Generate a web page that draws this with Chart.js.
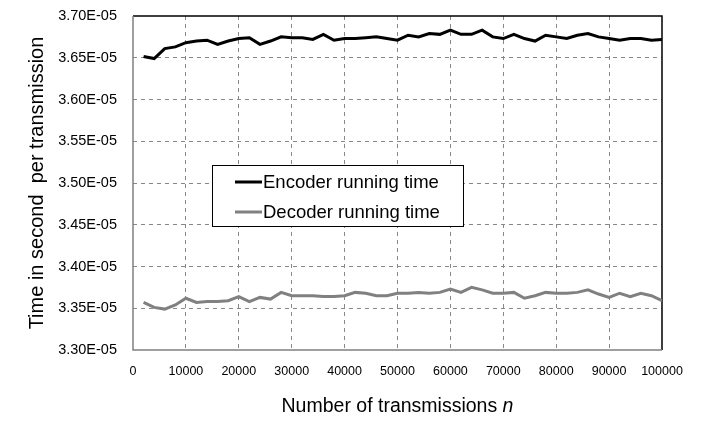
<!DOCTYPE html>
<html><head><meta charset="utf-8">
<script src="https://cdn.jsdelivr.net/npm/chart.js@4.4.1/dist/chart.umd.min.js"></script>
<style>html,body{margin:0;padding:0;background:#fff}#wrap{width:701px;height:439px}</style>
</head><body><div id="wrap"><canvas id="c" width="701" height="439"></canvas></div>
<script>
const transmissions = [2000,4000,6000,8000,10000,12000,14000,16000,18000,20000,22000,24000,26000,28000,30000,32000,34000,36000,38000,40000,42000,44000,46000,48000,50000,52000,54000,56000,58000,60000,62000,64000,66000,68000,70000,72000,74000,76000,78000,80000,82000,84000,86000,88000,90000,92000,94000,96000,98000,100000];
const encoderE5 = [3.6516,3.649,3.661,3.663,3.668,3.670,3.671,3.666,3.670,3.673,3.674,3.666,3.670,3.675,3.674,3.674,3.672,3.678,3.671,3.673,3.673,3.674,3.675,3.673,3.671,3.677,3.675,3.679,3.678,3.683,3.678,3.678,3.683,3.675,3.673,3.678,3.673,3.670,3.677,3.675,3.673,3.677,3.679,3.675,3.673,3.671,3.673,3.673,3.671,3.672];
const decoderE5 = [3.357,3.351,3.349,3.354,3.362,3.357,3.358,3.358,3.359,3.364,3.358,3.363,3.361,3.369,3.365,3.365,3.365,3.364,3.364,3.365,3.369,3.368,3.365,3.365,3.368,3.368,3.369,3.368,3.369,3.373,3.369,3.375,3.372,3.368,3.368,3.369,3.362,3.365,3.369,3.368,3.368,3.369,3.372,3.367,3.363,3.368,3.364,3.368,3.365,3.359];
const seriesNames = ["Encoder running time","Decoder running time"];
const yTickLabels = ["3.30E-05","3.35E-05","3.40E-05","3.45E-05","3.50E-05","3.55E-05","3.60E-05","3.65E-05","3.70E-05"];
const xTickLabels = ["0","10000","20000","30000","40000","50000","60000","70000","80000","90000","100000"];
const yTitle = "Time in second  per transmission";
const xTitle = "Number of transmissions ";
const xTitleItalic = "n";

const FONT = "'Liberation Sans', Arial, sans-serif";
const toPts = arr => arr.map((v,i)=>({x:transmissions[i], y:v*1e-5}));

const decor = {
  id:'decor',
  beforeDatasetsDraw(chart){
    const {ctx, chartArea:a} = chart;
    ctx.save();
    ctx.strokeStyle='#000'; ctx.lineWidth=1.5;
    ctx.beginPath(); ctx.moveTo(a.left,a.top); ctx.lineTo(a.right,a.top); ctx.lineTo(a.right,a.bottom); ctx.stroke();
    ctx.strokeStyle='#808080'; ctx.lineWidth=1.5;
    ctx.beginPath(); ctx.moveTo(a.left,a.top); ctx.lineTo(a.left,a.bottom); ctx.lineTo(a.right,a.bottom); ctx.stroke();
    ctx.restore();
  },
  afterDraw(chart){
    const {ctx, chartArea:a} = chart;
    ctx.save();
    ctx.fillStyle='#000';
    ctx.font = "20px "+FONT;
    ctx.translate(37,(a.top+a.bottom)/2);
    ctx.rotate(-Math.PI/2);
    ctx.textAlign='center'; ctx.textBaseline='middle';
    ctx.fillText(yTitle,0,0);
    ctx.restore();
    ctx.save();
    ctx.fillStyle='#000';
    const fs = "19.5px ";
    ctx.font = fs+FONT;
    const w1 = ctx.measureText(xTitle).width;
    ctx.font = "italic "+fs+FONT;
    const w2 = ctx.measureText(xTitleItalic).width;
    const cx = (a.left+a.right)/2;
    let sx = cx-(w1+w2)/2;
    ctx.textBaseline='middle'; ctx.textAlign='left';
    ctx.font = fs+FONT;
    ctx.fillText(xTitle,sx,407);
    ctx.font = "italic "+fs+FONT;
    ctx.fillText(xTitleItalic,sx+w1,407);
    ctx.restore();
    ctx.save();
    const bx=212.5, by=165.5, bw=251, bh=61;
    ctx.fillStyle='#fff'; ctx.fillRect(bx,by,bw,bh);
    ctx.strokeStyle='#000'; ctx.lineWidth=1; ctx.strokeRect(bx,by,bw,bh);
    chart.data.datasets.forEach((ds,i)=>{
      const ly = 182 + i*30;
      ctx.strokeStyle=ds.borderColor; ctx.lineWidth=3;
      ctx.beginPath(); ctx.moveTo(235,ly); ctx.lineTo(262,ly); ctx.stroke();
      ctx.fillStyle='#000'; ctx.font="18.5px "+FONT; ctx.textBaseline='middle'; ctx.textAlign='left';
      ctx.fillText(ds.label,263,ly+1);
    });
    ctx.restore();
  }
};

new Chart(document.getElementById('c'),{
  type:'line',
  data:{datasets:[
    {label:seriesNames[0], data:toPts(encoderE5), borderColor:'#000000', borderWidth:3, pointRadius:0, tension:0, fill:false},
    {label:seriesNames[1], data:toPts(decoderE5), borderColor:'#808080', borderWidth:3, pointRadius:0, tension:0, fill:false}
  ]},
  options:{
    responsive:false, animation:false, devicePixelRatio:1,
    layout:{padding:{left:0,top:16,right:39,bottom:0}},
    plugins:{legend:{display:false}, tooltip:{enabled:false}},
    scales:{
      x:{type:'linear', min:0, max:100000,
        afterFit(s){s.height=89; s.paddingLeft=0; s.paddingRight=0; s.paddingTop=0; s.paddingBottom=0;},
        afterBuildTicks(s){s.ticks = xTickLabels.map(t=>({value:Number(t)}));},
        ticks:{padding:14, color:'#000', font:{family:FONT,size:12.5}, maxRotation:0, autoSkip:false,
          callback:(v,i)=>xTickLabels[i]},
        grid:{drawTicks:false, color:(c)=>(c.tick && (c.tick.value===0||c.tick.value===100000))?'rgba(0,0,0,0)':'#888', lineWidth:1},
        border:{display:false, dash:[4,4]}
      },
      y:{type:'linear', min:3.30e-5, max:3.70e-5,
        afterFit(s){s.width=133; s.paddingTop=0; s.paddingBottom=0; s.paddingLeft=0; s.paddingRight=0;},
        afterBuildTicks(s){s.ticks = yTickLabels.map(t=>({value:Number(t)}));},
        ticks:{padding:16, color:'#000', font:{family:FONT,size:14.5}, autoSkip:false,
          callback:(v,i)=>yTickLabels[i]},
        grid:{drawTicks:false, color:(c)=>(c.tick && (Math.abs(c.tick.value-3.30e-5)<1e-9||Math.abs(c.tick.value-3.70e-5)<1e-9))?'rgba(0,0,0,0)':'#888', lineWidth:1},
        border:{display:false, dash:[4,4]}
      }
    }
  },
  plugins:[decor]
});
</script></body></html>
